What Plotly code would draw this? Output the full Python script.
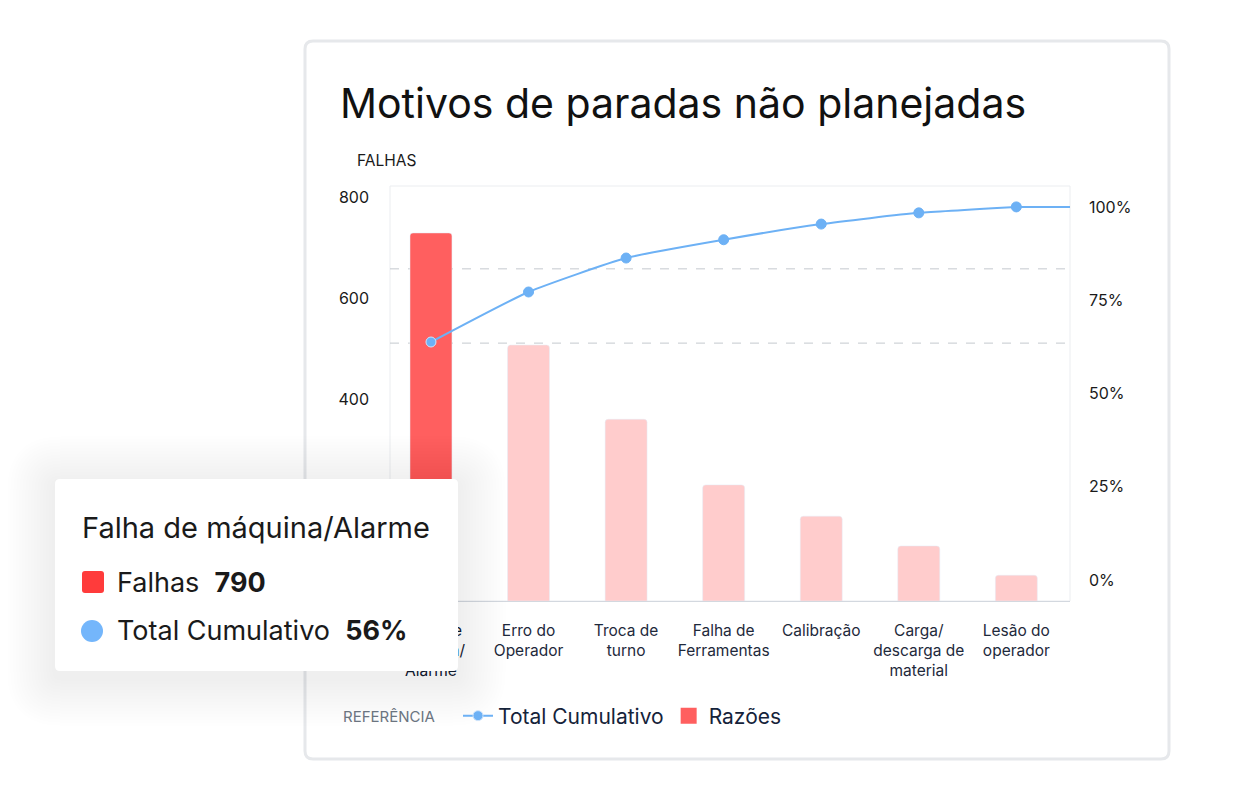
import plotly.graph_objects as go

# dados
categorias = ["Falha de<br>máquina/<br>Alarme", "Erro do<br>Operador", "Troca de<br>turno",
              "Falha de<br>Ferramentas", "Calibração", "Carga/<br>descarga de<br>material",
              "Lesão do<br>operador"]
falhas = [729, 507, 360, 230, 168, 109, 51]
cumulativo = [63.8, 77.2, 86.3, 91.2, 95.4, 98.4, 100.0]
linhas_ref = [83.4, 63.5]   # linhas tracejadas (eixo %)
ticks_pct = [0, 25, 50, 75, 100]
ticks_falhas = [0, 200, 400, 600, 800]

tooltip_titulo = "Falha de máquina/Alarme"
tooltip_falhas = 790
tooltip_cum = "56%"

FONT = "Inter, Roboto, sans-serif"
VERMELHO = "#ff5f5f"
ROSA = "#ffcccc"
AZUL = "#6db1f5"

X_RANGE = [-0.42, 6.55]

# area do grafico em pixels (tela); a pagina tem 8px de margem
OFF = 8
L, R, T, B = 390, 1070, 186, 601
W, H = 1250, 800


def px(x):
    return (x - L) / (R - L)


def py(y):
    return (B - y) / (B - T)


def rounded(x0, y0, x1, y1, r):
    # retangulo arredondado em coords paper (a partir de pixels)
    pts = [
        f"M {px(x0 + r)} {py(y0)}",
        f"L {px(x1 - r)} {py(y0)}",
        f"Q {px(x1)} {py(y0)} {px(x1)} {py(y0 + r)}",
        f"L {px(x1)} {py(y1 - r)}",
        f"Q {px(x1)} {py(y1)} {px(x1 - r)} {py(y1)}",
        f"L {px(x0 + r)} {py(y1)}",
        f"Q {px(x0)} {py(y1)} {px(x0)} {py(y1 - r)}",
        f"L {px(x0)} {py(y0 + r)}",
        f"Q {px(x0)} {py(y0)} {px(x0 + r)} {py(y0)}",
        "Z",
    ]
    return " ".join(pts)


fig = go.Figure()

cores = [VERMELHO] + [ROSA] * (len(falhas) - 1)
fig.add_trace(go.Bar(
    x=list(range(len(categorias))), y=falhas,
    name="Razões",
    marker=dict(color=cores, cornerradius=3),
    width=0.43,
    showlegend=False,
    yaxis="y",
))

# prolongamento da linha ate a borda
fig.add_trace(go.Scatter(
    x=[len(cumulativo) - 1, X_RANGE[1]],
    y=[cumulativo[-1], cumulativo[-1]],
    mode="lines", line=dict(color=AZUL, width=2),
    showlegend=False, hoverinfo="skip", yaxis="y2",
))

fig.add_trace(go.Scatter(
    x=list(range(len(categorias))), y=cumulativo,
    name="Total Cumulativo",
    mode="lines+markers",
    line=dict(color=AZUL, width=2, shape="spline", smoothing=0.5),
    marker=dict(color=AZUL, size=10,
                line=dict(color=["#cfe4fb"] + [AZUL] * (len(cumulativo) - 1), width=1)),
    yaxis="y2",
))

# entrada de legenda das barras (quadrado maior)
fig.add_trace(go.Scatter(
    x=[None], y=[None], name="Razões", mode="markers",
    marker=dict(symbol="square", size=22, color=VERMELHO),
    yaxis="y",
))

shapes = []

# card
shapes.append(dict(type="path", xref="paper", yref="paper", layer="below",
                   path=rounded(305, 41, 1169, 759, 8),
                   fillcolor="white", line=dict(color="#e6e8eb", width=3)))

# borda da area do grafico
shapes.append(dict(type="rect", xref="paper", yref="paper", layer="below",
                   x0=0, x1=1, y0=0, y1=1, line=dict(color="#ebedf0", width=1)))

for v in linhas_ref:
    shapes.append(dict(type="line", xref="paper", yref="y2", layer="below",
                       x0=0, x1=1, y0=v, y1=v,
                       line=dict(color="#c4c9cf", width=1, dash="dash")))

# sombra do tooltip
for i in range(16):
    d = 3 * (i + 1)
    shapes.append(dict(type="path", xref="paper", yref="paper", layer="above",
                   path=rounded(55 - d, 484 - d, 458 + d, 678 + d, 6 + d),
                   fillcolor="rgba(60,75,110,0.0045)", line=dict(width=0)))

# tooltip
shapes.append(dict(type="path", xref="paper", yref="paper", layer="above",
                   path=rounded(55, 479, 458, 671, 5),
                   fillcolor="white", line=dict(width=0)))
shapes.append(dict(type="path", xref="paper", yref="paper", layer="above",
                   path=rounded(82, 571, 104, 593, 3),
                   fillcolor="#ff3b3b", line=dict(width=0)))
shapes.append(dict(type="circle", xref="paper", yref="paper", layer="above",
                   x0=px(81), x1=px(103), y0=py(620), y1=py(642),
                   fillcolor="#74b6fb", line=dict(width=0)))

annotations = [
    dict(text="Motivos de paradas não planejadas", x=px(338), y=py(103),
         xanchor="left", yanchor="middle",
         font=dict(family=FONT, size=41, color="#111111")),
    dict(text="FALHAS", x=px(355), y=py(160), xanchor="left", yanchor="middle",
         font=dict(family=FONT, size=15.5, color="#1a1a1a")),
    dict(text="REFERÊNCIA", x=px(341), y=py(716), xanchor="left", yanchor="middle",
         font=dict(family=FONT, size=15, color="#6b7480")),
    dict(text=tooltip_titulo, x=px(80), y=py(527), xanchor="left", yanchor="middle",
         font=dict(family=FONT, size=29, color="#1a1a1a")),
    dict(text=f"Falhas  <b>{tooltip_falhas}</b>", x=px(115), y=py(582),
         xanchor="left", yanchor="middle",
         font=dict(family=FONT, size=27, color="#1a1a1a")),
    dict(text=f"Total Cumulativo  <b>{tooltip_cum}</b>", x=px(115), y=py(630),
         xanchor="left", yanchor="middle",
         font=dict(family=FONT, size=27, color="#1a1a1a")),
]
for a in annotations:
    a.update(xref="paper", yref="paper", showarrow=False)

fig.update_layout(
    width=W, height=H,
    margin=dict(l=L - OFF, r=W - R + OFF, t=T - OFF, b=H - B + OFF),
    paper_bgcolor="white", plot_bgcolor="rgba(0,0,0,0)",
    font=dict(family=FONT, color="#222222"),
    hovermode=False,
    xaxis=dict(
        range=X_RANGE,
        tickvals=list(range(len(categorias))), ticktext=categorias,
        showgrid=False, zeroline=False,
        showline=True, linecolor="#d3d8df", linewidth=1,
        ticks="", ticklabelstandoff=15,
        tickfont=dict(family=FONT, size=15.5, color="#1e293b"),
    ),
    yaxis=dict(
        range=[0, 822], tickvals=ticks_falhas,
        showgrid=False, zeroline=False, showline=False,
        ticklabelstandoff=20,
        tickfont=dict(family=FONT, size=16, color="#1a1a1a"),
    ),
    yaxis2=dict(
        range=[-5.6, 105.6], overlaying="y", side="right",
        tickvals=ticks_pct, ticktext=[f"{t}%" for t in ticks_pct],
        showgrid=False, zeroline=False, showline=False,
        ticklabelstandoff=18,
        tickfont=dict(family=FONT, size=16, color="#1a1a1a"),
    ),
    legend=dict(
        orientation="h", x=px(458), y=py(716), xanchor="left", yanchor="middle",
        font=dict(family=FONT, size=21, color="#15233a"),
        itemwidth=30, itemsizing="trace",
        bgcolor="rgba(0,0,0,0)",
    ),
    shapes=shapes,
    annotations=annotations,
)

fig.write_html("out.html")
